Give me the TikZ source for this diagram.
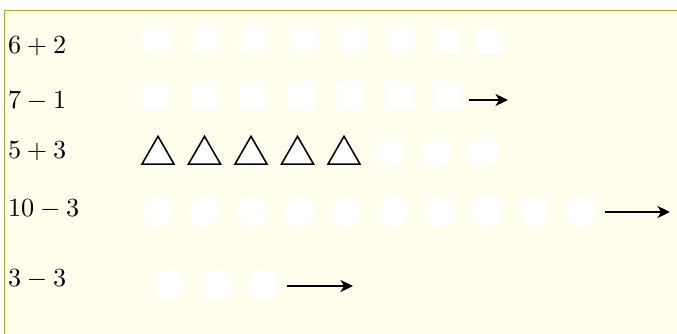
\documentclass[tikz,border=0pt]{standalone}
\usetikzlibrary{shapes.geometric,arrows.meta}
\definecolor{panelfill}{RGB}{255,254,236}
\definecolor{panelline}{RGB}{175,170,40}
\tikzset{
  px/.style={x=0.3817pt,y=-0.3817pt},
  dot/.style={circle,fill=white,draw=none,minimum size=11.8pt,inner sep=0pt},
  sq/.style={rectangle,fill=white,draw=none,minimum size=10.3pt,inner sep=0pt},
  tri/.style={regular polygon,regular polygon sides=3,fill=white,draw=black,line width=0.6pt,minimum size=14.1pt,inner sep=0pt},
  lbl/.style={anchor=base west,inner sep=0pt,font=\fontsize{10.3}{12.4}\selectfont},
  arr/.style={line width=0.75pt,-{Stealth[length=4.8pt,width=4.6pt,inset=1.4pt]}}
}
\begin{document}
\begin{tikzpicture}[px]
\useasboundingbox (0,0) rectangle (677,333);
\clip (0,0) rectangle (677,333);
\fill[white] (0,0) rectangle (677,333);
\draw[panelline,fill=panelfill,line width=0.55pt] (4.5,10.5) rectangle (690,345);
% labels
\node[lbl] (l1) at (7.5,53.5) {$6+2$};
\node[lbl] (l2) at (7.5,108) {$7-1$};
\node[lbl] (l3) at (7.5,158) {$5+3$};
\node[lbl] (l4) at (7.5,216) {$10-3$};
\node[lbl] (l5) at (7.5,286) {$3-3$};
% row 1
\foreach \x [count=\i] in {157,206,254,303,352,400}
  \node[dot] (r1c\i) at (\x,39) {};
\node[sq] (r1s1) at (446.5,40) {};
\node[sq] (r1s2) at (489.5,40) {};
% row 2
\foreach \x [count=\i] in {155,204,252,301.5,350,399.5,447.5}
  \node[sq] (r2s\i) at (\x,95.5) {};
\coordinate (a2s) at (469,100);
\coordinate (a2e) at (508,100);
\draw[arr] (a2s) -- (a2e);
% row 3
\foreach \x [count=\i] in {158,204.5,251,297.5,344}
  \node[tri] (r3t\i) at (\x,154.8) {};
\foreach \x [count=\i] in {390,436.5,483}
  \node[dot] (r3c\i) at (\x,151) {};
% row 4
\foreach \x [count=\i] in {157.5,204,251.5,298.5,345,392.5,439.5,487,534,581}
  \node[dot] (r4c\i) at (\x,211) {};
\coordinate (a4s) at (605,212);
\coordinate (a4e) at (670,212);
\draw[arr] (a4s) -- (a4e);
% row 5
\foreach \x [count=\i] in {169,216.5,263.5}
  \node[dot] (r5c\i) at (\x,285) {};
\coordinate (a5s) at (287,286);
\coordinate (a5e) at (353,286);
\draw[arr] (a5s) -- (a5e);
\end{tikzpicture}
\end{document}
